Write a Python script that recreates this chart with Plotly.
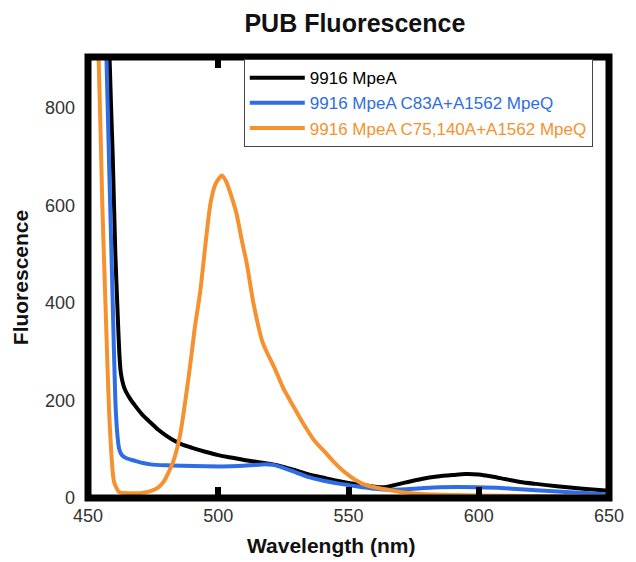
import plotly.graph_objects as go

# ---------------- data ----------------
wl_black = [450, 455, 458.3, 459.5, 460.5, 461.3, 462, 462.6, 464, 466, 468, 471, 474, 477, 480,
            483, 486, 490, 495, 500, 505, 510, 515, 520, 525, 530, 535, 540, 545, 550, 555, 560,
            564, 568, 572, 578, 584, 590, 595, 600, 605, 610, 616, 622, 630, 640, 650]
val_black = [3000, 2000, 900, 700, 500, 390, 300, 257, 225, 205, 190, 170, 155, 140, 128,
             118, 110, 103, 95, 88, 83, 78, 74, 70, 64, 56, 48, 42, 36, 31, 27, 23,
             22, 27, 32, 39, 44, 47, 49, 48, 44, 39, 33, 29, 24, 19, 15]

wl_blue = [450, 455, 457.1, 459.5, 460.5, 461.3, 462, 463, 465, 467.6, 470, 474, 480, 486, 495,
           505, 512, 517, 521, 525, 530, 534, 540, 547, 553, 560, 566, 572, 578, 585, 600, 610,
           622, 635, 647, 650]
val_blue = [3000, 1500, 900, 400, 200, 128, 100, 88, 81, 77, 73, 69, 67, 66, 65,
            65, 67, 69, 68, 62, 52, 44, 36, 29, 24, 19, 17, 18, 20, 22, 22, 20,
            16, 12, 8, 7]

wl_orange = [450, 453, 454.1, 455.5, 456.7, 458.3, 460, 462, 465, 470, 474, 477, 479, 482.6, 485.3,
             489, 491, 493, 494, 497, 499, 501.4, 503, 505, 507, 509, 511, 513.5, 517, 522, 525,
             528, 531, 534, 537, 541, 544, 547, 550, 553, 556, 560, 566, 572, 578, 590, 600, 620, 650]
val_orange = [1500, 1000, 900, 600, 400, 155, 33, 12, 10, 10, 14, 22, 33, 73, 128,
              263, 350, 420, 467, 604, 645, 662, 650, 620, 584, 530, 480, 400, 320, 262, 225,
              196, 168, 141, 117, 94, 76, 60, 47, 36, 28, 22, 16, 11, 8, 6, 5, 4, 3]

names = ["9916 MpeA", "9916 MpeA C83A+A1562 MpeQ", "9916 MpeA C75,140A+A1562 MpeQ"]
colors = ["#000000", "#2E6DE4", "#F5922F"]

x_ticks = [450, 500, 550, 600, 650]
y_ticks = [0, 200, 400, 600, 800]

# ---------------- figure ----------------
fig = go.Figure()
series = [(wl_black, val_black), (wl_blue, val_blue), (wl_orange, val_orange)]
for (xs, ys), nm, col in zip(series, names, colors):
    fig.add_trace(go.Scatter(
        x=xs, y=ys, mode="lines",
        line=dict(color=col, width=4, shape="spline", smoothing=0.6),
        name=f"<span style='color:{col}'>{nm}</span>",
    ))

fig.update_layout(
    width=636, height=562,
    margin=dict(l=88, r=16, t=57, b=64),
    paper_bgcolor="white", plot_bgcolor="white",
    font=dict(family="Liberation Sans, Arial, sans-serif", color="#333333"),
    title=dict(text="<b>PUB Fluorescence</b>", x=0.558, xanchor="center", y=0.958, yanchor="middle",
               font=dict(size=25, color="#111111")),
    showlegend=True,
    legend=dict(x=0.299, xanchor="left", y=0.995, yanchor="top",
                bgcolor="white", bordercolor="#444444", borderwidth=1,
                font=dict(size=17, color="#000000"),
                itemwidth=55, tracegroupgap=0),
    xaxis=dict(range=[450, 650], tickvals=x_ticks, showgrid=False, zeroline=False,
               showline=False, ticks="inside", ticklen=11, tickwidth=6, tickcolor="black",
               mirror="ticks", tickfont=dict(size=18, color="#333333"), ticklabelstandoff=5),
    yaxis=dict(range=[0, 905], tickvals=y_ticks, showgrid=False, zeroline=False,
               showline=False, ticks="", tickfont=dict(size=18, color="#333333"),
               ticklabelstandoff=12,
               title=dict(text="<b>Fluorescence</b>", font=dict(size=21, color="#111111"), standoff=10)),
    annotations=[dict(text="<b>Wavelength (nm)</b>", xref="paper", yref="paper",
                      x=0.466, y=-0.108, xanchor="center", yanchor="middle", showarrow=False,
                      font=dict(size=21, color="#111111"))],
)

# thick frame around plot area
fig.add_shape(type="rect", xref="paper", yref="paper", x0=0, x1=1, y0=0, y1=1,
              line=dict(color="black", width=7), layer="above")

fig.write_html("out.html")
